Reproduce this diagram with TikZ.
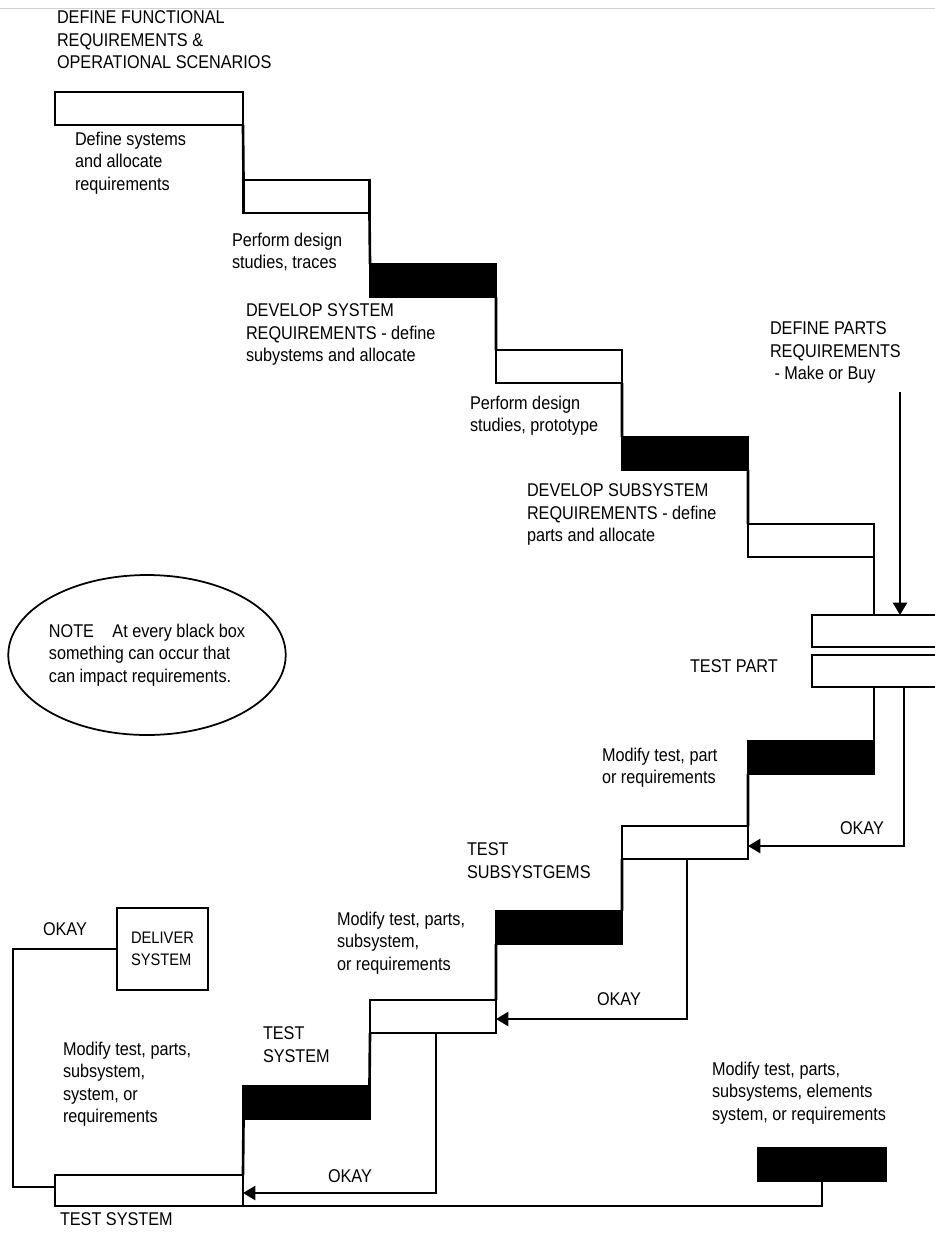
\documentclass[tikz,border=0pt]{standalone}
\usepackage{fontspec}
\setmainfont[FakeStretch=0.88]{Liberation Sans}
\usetikzlibrary{shapes.geometric,arrows.meta}

\begin{document}
\begin{tikzpicture}[x=0.02cm, y=-0.02cm, every node/.style={outer sep=0pt},
  whitestep/.style={draw, line width=1.5pt, fill=white, minimum width=2.52cm, minimum height=0.66cm, inner sep=0pt},
  blackstep/.style={whitestep, fill=black},
  txt/.style={anchor=north west, align=left, inner sep=0pt, font=\fontsize{10.5}{12.8}\selectfont},
  riser/.style={line width=1.5pt},
  okay/.style={line width=1.2pt, -{Triangle[length=7pt,width=8pt]}}]
\useasboundingbox (0,0) rectangle (935,1235);
\draw[gray!35, line width=0.5pt] (0,8) -- (935,8);

% going down: requirements
\node[whitestep, minimum width=3.76cm] (req) at (149,108.5) {};
\node[whitestep] (sys) at (306.5,196.5) {};
\node[blackstep] (trade) at (433,280.5) {};
\node[whitestep] (subsys) at (559,366.5) {};
\node[blackstep] (proto) at (685,453.5) {};
\node[whitestep] (parts) at (811,540.5) {};
\node[inner sep=0pt, minimum width=2.46cm, minimum height=0.64cm] (partA) at (873.5,631) {};
\node[inner sep=0pt, minimum width=2.46cm, minimum height=0.64cm] (partB) at (873.5,671) {};
\draw[riser] (partA.north east) -| (partA.south west) -- (partA.south east);
\draw[riser] (partB.north east) -| (partB.south west) -- (partB.south east);

% going up: tests
\node[blackstep] (fixpart) at (811,757.5) {};
\node[whitestep] (testsub) at (685,842.5) {};
\node[blackstep] (fixsub) at (559,927.5) {};
\node[whitestep] (testsys) at (433,1016.5) {};
\node[blackstep] (fixsys) at (306.5,1102.5) {};
\node[whitestep, minimum width=3.76cm, minimum height=0.62cm] (final) at (149,1190.5) {};
\node[blackstep, minimum width=2.56cm] (fixall) at (822,1164.5) {};
\node[draw, line width=1.5pt, minimum width=1.82cm, minimum height=1.64cm, align=left, font=\fontsize{9.5}{12.8}\selectfont] (deliver) at (162.5,949) {DELIVER\\SYSTEM};

\node[draw, ellipse, line width=1pt, minimum width=4.96cm, minimum height=3.2cm, inner sep=0pt, align=left, font=\fontsize{10.5}{12.8}\selectfont] (note) at (147,655) {NOTE\quad At every black box\\something can occur that\\can impact requirements.};

\draw[riser] (req.south east) -- (sys.north west);
\draw[riser] (sys.south east) -- (trade.north west);
\draw[riser] (trade.south east) -- (subsys.north west);
\draw[riser] (subsys.south east) -- (proto.north west);
\draw[riser] (proto.south east) -- (parts.north west);
\draw[riser] (parts.south east) -- (parts.south east |- partA.north);
\draw[riser] (partB.south -| fixpart.east) -- (fixpart.north east);
\draw[riser] (fixpart.south west) -- (testsub.north east);
\draw[riser] (testsub.south west) -- (fixsub.north east);
\draw[riser] (fixsub.south west) -- (testsys.north east);
\draw[riser] (testsys.south west) -- (fixsys.north east);
\draw[riser] (fixsys.south west) -- (final.north east);

\coordinate (partsin) at (900,392);
\draw[okay] (partsin) -- (partsin |- partA.north);
\coordinate (okA) at (904,846);
\draw[okay] (partB.south -| okA) -- (okA) -- (testsub.east |- okA);
\coordinate (okB) at (687,1019);
\draw[okay] (testsub.south -| okB) -- (okB) -- (testsys.east |- okB);
\coordinate (okC) at (436,1193);
\draw[okay] (testsys.south -| okC) -- (okC) -- (final.east |- okC);
\coordinate (okD) at (13,1187);
\draw[line width=1.2pt] (final.west |- okD) -- (okD) |- (deliver.west);
\draw[riser] (fixall.south) |- (final.south east);

\node[txt] (functxt) at (57,11) {DEFINE FUNCTIONAL\\REQUIREMENTS \&\\OPERATIONAL SCENARIOS};
\node[txt] (systxt) at (75,132) {Define systems\\and allocate\\requirements};
\node[txt] (tradetxt) at (232,233) {Perform design\\studies, traces};
\node[txt] (devsystxt) at (246,304) {DEVELOP SYSTEM\\REQUIREMENTS - define\\subystems and allocate};
\node[txt] (prototxt) at (470,396) {Perform design\\studies, prototype};
\node[txt] (devsubtxt) at (527,484) {DEVELOP SUBSYSTEM\\REQUIREMENTS - define\\parts and allocate};
\node[txt] (partstxt) at (770,322) {DEFINE PARTS\\REQUIREMENTS\\\ - Make or Buy};
\node[txt] (testparttxt) at (690,660) {TEST PART};
\node[txt] (fixparttxt) at (602,748) {Modify test, part\\or requirements};
\node[txt] (testsubtxt) at (467,843) {TEST\\SUBSYSTGEMS};
\node[txt] (fixsubtxt) at (337,912) {Modify test, parts,\\subsystem,\\or requirements};
\node[txt] (testsystxt) at (263,1027) {TEST\\SYSTEM};
\node[txt] (fixsystxt) at (63,1042) {Modify test, parts,\\subsystem,\\system, or\\requirements};
\node[txt] (finaltxt) at (60,1213) {TEST SYSTEM};
\node[txt] (fixalltxt) at (712,1062) {Modify test, parts,\\subsystems, elements\\system, or requirements};
\node[txt] (okAtxt) at (840,822) {OKAY};
\node[txt] (okBtxt) at (597,993) {OKAY};
\node[txt] (okCtxt) at (328,1170) {OKAY};
\node[txt] (okDtxt) at (43,923) {OKAY};
\end{tikzpicture}
\end{document}
